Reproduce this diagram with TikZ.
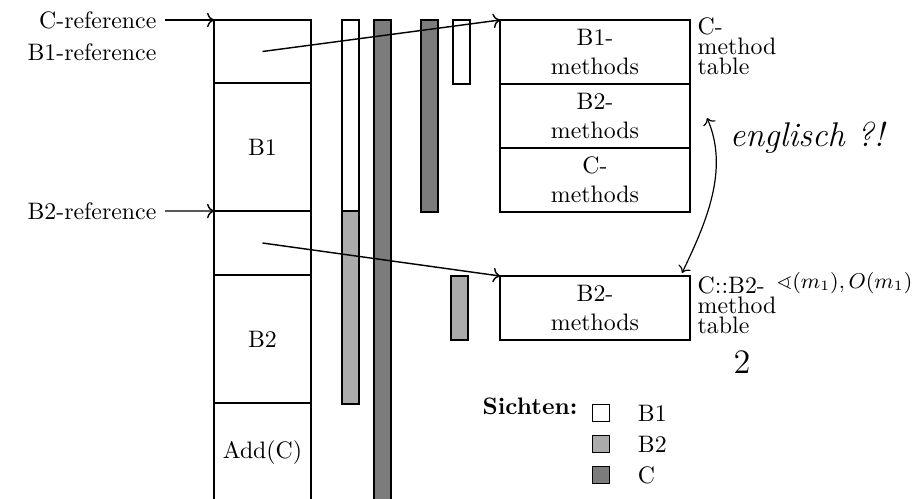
\documentclass[tikz,border=0pt]{standalone}
\usepackage{amsmath,amssymb}
\usepackage{xcolor}
\definecolor{viewbtwo}{HTML}{ABABAB}
\definecolor{viewc}{HTML}{7C7C7C}
\usepackage{tikz}
\usetikzlibrary{arrows.meta,positioning,calc}
\newcommand{\pxu}{0.42pt}

\begin{document}
\begin{tikzpicture}[x=\pxu,y=-\pxu,line width=0.6pt,
  objcell/.style={draw,anchor=north west,inner sep=0pt,outer sep=0pt,
    minimum width=97*\pxu,minimum height=#1*\pxu},
  mcell/.style={draw,anchor=north west,inner sep=0pt,outer sep=0pt,
    minimum width=190*\pxu,minimum height=64*\pxu,align=center},
  viewbar/.style={draw,anchor=north west,inner sep=0pt,outer sep=0pt,
    minimum width=17*\pxu,minimum height=#1*\pxu},
  legbox/.style={draw,inner sep=0pt,minimum size=17*\pxu},
  reflbl/.style={anchor=east},
  tbllbl/.style={anchor=west,inner sep=0pt,align=left,
    font=\fontsize{10}{8.5}\selectfont},
  hand/.style={font=\Large\itshape}]
\useasboundingbox (0,0) rectangle (922,498);
\clip (0,0) rectangle (922,498);

% object layout of C
\node[objcell=63] (ptra) at (214,20) {};
\node[objcell=128,below=0pt of ptra] (objbone) {B1};
\node[objcell=64,below=0pt of objbone] (ptrb) {};
\node[objcell=128,below=0pt of ptrb] (objbtwo) {B2};
\node[objcell=100,below=0pt of objbtwo] (addc) {Add(C)};

\node[reflbl] (crefl) at (165,20) {C-reference};
\node[reflbl] (bonerefl) at (165,52) {B1-reference};
\node[reflbl] (btworefl) at (165,211) {B2-reference};
\draw[->] (crefl.east) -- (ptra.north west);
\draw[->] (btworefl.east) -- (ptrb.north west);

% views
\node[viewbar=191,fill=white] (vbone) at (342,20) {};
\node[viewbar=193,fill=viewbtwo,below=0pt of vbone] (vbtwo) {};
\node[viewbar=490,fill=viewc] (vcall) at (374,20) {};
\node[viewbar=192,fill=viewc] (vcup) at (421,20) {};
\node[viewbar=64,fill=white] (vbonet) at (453,20) {};
\node[viewbar=64,fill=viewbtwo] (vbtwot) at (451,276) {};

% method tables
\node[mcell] (mbone) at (500,20) {B1-\\methods};
\node[mcell,below=0pt of mbone] (mbtwo) {B2-\\methods};
\node[mcell,below=0pt of mbtwo] (mc) {C-\\methods};
\node[mcell] (cbtwo) at (500,276) {B2-\\methods};

\node[tbllbl] (ctbl) at (697,46) {C-\\method\\table};
\node[tbllbl] (cbtwotbl) at (697,305) {C::B2-\\method\\table};

\draw[->] (ptra.center) -- (mbone.north west);
\draw[->] (ptrb.center) -- (cbtwo.north west);

% handwritten remarks
\coordinate (hnA) at (707,118);
\coordinate (hnB) at (682,273);
\draw[<->,line width=0.5pt] (hnA) .. controls (730,170) and (705,225) .. (hnB);
\node[hand] (hnq) at (807,138) {englisch ?!};
\node[hand,font=\small,anchor=east] (hnm) at (921,283) {$\sphericalangle(m_1), O(m_1)$};
\node[hand,font=\Large] (hntwo) at (742,362) {2};

% legend
\node[font=\bfseries] (sichten) at (530,406) {Sichten:};
\node[legbox,fill=white] (lgbone) at (601,413) {};
\node[legbox,fill=viewbtwo] (lgbtwo) at (601,444) {};
\node[legbox,fill=viewc] (lgc) at (601,475) {};
\node[right=8pt of lgbone] (lgbonet) {B1};
\node[right=8pt of lgbtwo] (lgbtwot) {B2};
\node[right=8pt of lgc] (lgct) {C};
\end{tikzpicture}
\end{document}
